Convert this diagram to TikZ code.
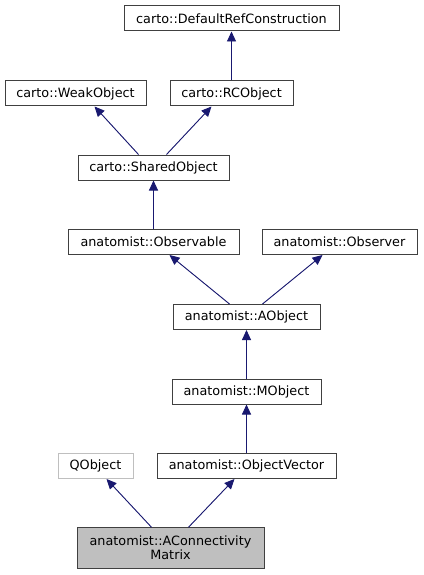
\documentclass[tikz,border=0pt]{standalone}
\usepackage{fontspec}
\setmainfont{DejaVu Sans}
\usetikzlibrary{arrows.meta,calc}
\definecolor{edgeblue}{HTML}{191970}
\definecolor{boxline}{HTML}{404040}
\definecolor{greyline}{HTML}{BFBFBF}
\definecolor{focusfill}{HTML}{BFBFBF}
\begin{document}
\begin{tikzpicture}[x=1pt,y=-1pt,
  cls/.style={draw=boxline,line width=1pt,fill=white,minimum height=25pt,inner sep=0pt,
    font=\fontsize{12.8}{14}\selectfont,align=center},
  ext/.style={cls,draw=greyline},
  focus/.style={cls,fill=focusfill,minimum height=40.5pt},
  inh/.style={draw=edgeblue,line width=0.9pt,-{Triangle[length=10pt,width=9pt]},fill=edgeblue}]
\useasboundingbox[fill=white] (0,0) rectangle (423,575);
\node[cls,minimum width=215pt] (drc) at (231.5,18.5) {carto::DefaultRefConstruction};
\node[cls,minimum width=141pt] (weak) at (75.5,93.5) {carto::WeakObject};
\node[cls,minimum width=123pt] (rc) at (231.5,93.5) {carto::RCObject};
\node[cls,minimum width=151pt] (shared) at (153.5,167.5) {carto::SharedObject};
\node[cls,minimum width=171pt] (obsable) at (153.5,242) {anatomist::Observable};
\node[cls,minimum width=155pt] (obser) at (339.5,242) {anatomist::Observer};
\node[cls,minimum width=147pt] (aobj) at (246.5,317) {anatomist::AObject};
\node[cls,minimum width=149pt] (mobj) at (246.5,391.5) {anatomist::MObject};
\node[ext,minimum width=75pt] (qobj) at (95.5,466) {QObject};
\node[cls,minimum width=179pt] (ovec) at (246.5,466) {anatomist::ObjectVector};
\node[focus,minimum width=187pt] (acm) at (170.5,548) {anatomist::AConnectivity\\Matrix};
\draw[inh] (rc.north) -- (drc.south);
\draw[inh] ($(shared.north west)+(61,0)$) -- ($(weak.south west)+(90,0)$);
\draw[inh] ($(shared.north west)+(89,0)$) -- ($(rc.south west)+(42,0)$);
\draw[inh] (obsable.north) -- (shared.south);
\draw[inh] ($(aobj.north west)+(57,0)$) -- ($(obsable.south west)+(102,0)$);
\draw[inh] ($(aobj.north west)+(90,0)$) -- ($(obser.south west)+(61,0)$);
\draw[inh] (mobj.north) -- (aobj.south);
\draw[inh] (ovec.north) -- (mobj.south);
\draw[inh] ($(acm.north west)+(75,0)$) -- ($(qobj.south west)+(49,0)$);
\draw[inh] ($(acm.north west)+(112,0)$) -- ($(ovec.south west)+(78,0)$);
\end{tikzpicture}
\end{document}
